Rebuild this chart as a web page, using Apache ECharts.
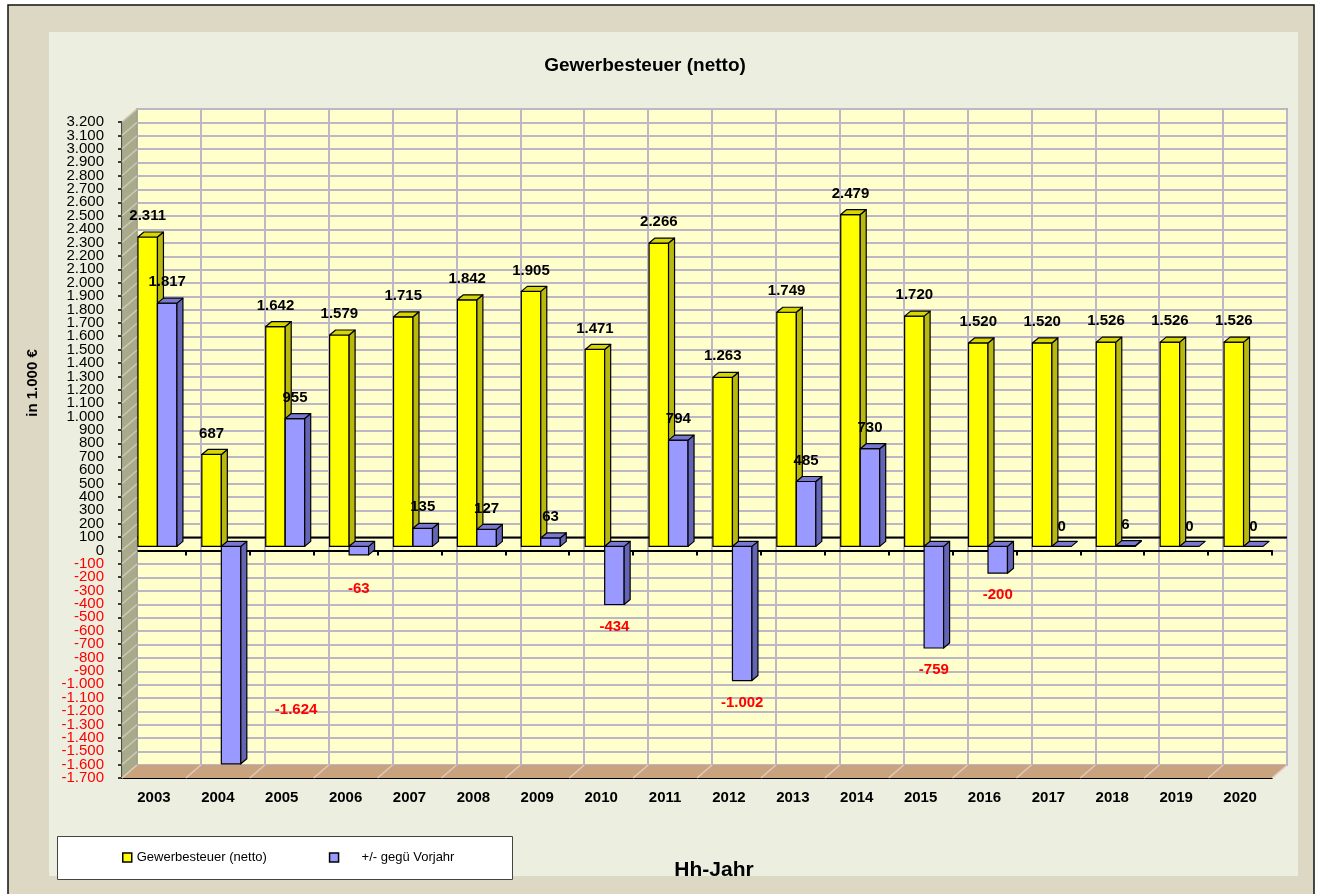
<!DOCTYPE html>
<html>
<head>
<meta charset="utf-8">
<script src="https://cdn.jsdelivr.net/npm/echarts@6/dist/echarts.min.js"></script>
<style>
html,body{margin:0;padding:0;background:#fff;}
#chart{width:1318px;height:894px;}
</style>
</head>
<body>
<div id="chart"></div>
<script>
// ---- data ----
const years = ['2003','2004','2005','2006','2007','2008','2009','2010','2011','2012','2013','2014','2015','2016','2017','2018','2019','2020'];
const gewerbesteuer = [2311, 687, 1642, 1579, 1715, 1842, 1905, 1471, 2266, 1263, 1749, 2479, 1720, 1520, 1520, 1526, 1526, 1526];
const veraenderung = [1817, -1624, 955, -63, 135, 127, 63, -434, 794, -1002, 485, 730, -759, -200, 0, 6, 0, 0];
const yMin = -1700, yMax = 3200, yStep = 100;
const seriesNames = ['Gewerbesteuer (netto)', '+/- gegü Vorjahr'];

// ---- layout / style constants ----
const FONT = '"Liberation Sans", Arial, sans-serif';
const DX = 15, DY = -13;          // depth of the 3D box
const BDX = 4, BDY = -4;          // bar plane offset
const BD_X = 6, BD_Y = -5;        // bar depth
const barColors = [
  {front:'#ffff00', side:'#b8b80e', top:'#d6d600'},
  {front:'#9999ff', side:'#6464b4', top:'#7878d0'}
];

function fmt(v){
  const s = Math.abs(v).toString().replace(/\B(?=(\d{3})+(?!\d))/g, '.');
  return (v < 0 ? '-' : '') + s;
}
// labels next to the axis ends are drawn by a helper axis so ECharts does not hide them
const nearEnds = [yMax - yStep, yMin + yStep];
const labelColor = function(v){ return Number(v) < 0 ? '#ff0000' : '#000'; };

// label overrides (Excel placed this label inside the plot)
const labelNudge = {'1_1':[65,-76]};

function wallsRender(params, api){
  const cs = params.coordSys;
  const x0 = cs.x, x1 = cs.x + cs.width, yT = cs.y, yB = cs.y + cs.height;
  const ch = [];
  ch.push({type:'polygon', shape:{points:[[x0,yT],[x0+DX,yT+DY],[x0+DX,yB+DY],[x0,yB]]}, style:{fill:'#a9a98b', stroke:'#9a9a80', lineWidth:1}});
  for (let v = yMin; v <= yMax; v += yStep){
    const y = api.coord([0, v])[1];
    ch.push({type:'line', shape:{x1:x0, y1:y, x2:x0+DX, y2:y+DY}, style:{stroke:'#cacab4', lineWidth:1.5}});
  }
  ch.push({type:'polygon', shape:{points:[[x0,yB],[x0+DX,yB+DY],[x1+DX,yB+DY],[x1,yB]]}, style:{fill:'#c9a37d'}});
  const band = api.size([1,0])[0];
  for (let i = 0; i <= years.length; i++){
    const x = api.coord([0,0])[0] - band/2 + i*band;
    ch.push({type:'line', shape:{x1:x, y1:yB, x2:x+DX, y2:yB+DY}, style:{stroke:'#e0cabb', lineWidth:1.5}});
  }
  const y0 = api.coord([0,0])[1] + DY;
  ch.push({type:'line', shape:{x1:x0+DX, y1:y0, x2:x1+DX, y2:y0}, style:{stroke:'#000', lineWidth:2}});
  return {type:'group', children:ch};
}

function barRender(sIdx){
  return function(params, api){
    const i = api.value(0), v = api.value(1);
    const c = api.coord([i, v]);
    const z = api.coord([i, 0]);
    const band = api.size([1,0])[0];
    const w = band * 0.305;
    const cx = c[0] + BDX - 0.5;
    const xL = sIdx === 0 ? cx - w : cx;
    const xR = xL + w;
    const yTop = Math.min(c[1], z[1]) + BDY;
    const yBot = Math.max(c[1], z[1]) + BDY;
    const col = barColors[sIdx];
    const st = {stroke:'#000', lineWidth:1.2, lineJoin:'round'};
    const ch = [];
    if (yBot - yTop > 0.5){
      ch.push({type:'rect', shape:{x:xL, y:yTop, width:w, height:yBot-yTop}, style:Object.assign({fill:col.front}, st)});
      ch.push({type:'polygon', shape:{points:[[xR,yTop],[xR+BD_X,yTop+BD_Y],[xR+BD_X,yBot+BD_Y],[xR,yBot]]}, style:Object.assign({fill:col.side}, st)});
    }
    ch.push({type:'polygon', shape:{points:[[xL,yTop],[xL+BD_X,yTop+BD_Y],[xR+BD_X,yTop+BD_Y],[xR,yTop]]}, style:Object.assign({fill:col.top}, st)});
    let lx = (xL + xR)/2, ly;
    if (v > 0) ly = yTop - 21;
    else if (v === 0) ly = yTop - 20;
    else ly = Math.max(yBot + 22, z[1] + 38);
    const nk = labelNudge[i + '_' + sIdx];
    if (nk){ lx += nk[0]; ly += nk[1]; }
    ch.push({type:'text', z2:10, style:{text:fmt(v), x:lx, y:ly, align:'center', verticalAlign:'middle',
      fill: v < 0 ? '#ff0000' : '#000', font:'bold 15px ' + FONT}});
    return {type:'group', children:ch};
  };
}

const chart = echarts.init(document.getElementById('chart'), null, {renderer:'canvas'});
const option = {
  animation:false,
  textStyle:{fontFamily:FONT},
  graphic:[
    {type:'rect', z:-10, silent:true, shape:{x:8, y:5, width:1306, height:900}, style:{fill:'#ddd8c3', stroke:'#111', lineWidth:1.5}},
    {type:'rect', z:-9, silent:true, shape:{x:49, y:32, width:1249, height:844}, style:{fill:'#ecefdf'}},
    {type:'rect', z:-8, silent:true, shape:{x:57.5, y:836.5, width:455, height:43}, style:{fill:'#fff', stroke:'#444', lineWidth:1}},
    {type:'text', z:5, silent:true, x:33, y:383, rotation:Math.PI/2,
      style:{text:'in 1.000 €', align:'center', verticalAlign:'middle', font:'bold 15px ' + FONT, fill:'#000'}},
    {type:'text', z:5, silent:true, x:714, y:870,
      style:{text:'Hh-Jahr', align:'center', verticalAlign:'middle', font:'bold 21px ' + FONT, fill:'#000'}}
  ],
  title:{text:'Gewerbesteuer (netto)', left:640, textAlign:'center', top:51,
    textStyle:{fontSize:19, fontWeight:'bold', color:'#000', fontFamily:FONT}},
  legend:{left:122, top:851, padding:0, itemWidth:9, itemHeight:9, itemGap:62, icon:'rect', z:10,
    itemStyle:{borderColor:'#000', borderWidth:1.5},
    textStyle:{fontSize:13, color:'#000', fontFamily:FONT},
    data:[{name:seriesNames[0]}, {name:seriesNames[1], textStyle:{padding:[0,0,0,18]}}]},
  grid:[
    {left:122, top:122, width:1150, height:656},
    {left:137, top:109, width:1150, height:656, show:true, backgroundColor:'#ffffcc', borderColor:'#aaaaaa', borderWidth:2}
  ],
  xAxis:[
    {gridIndex:0, type:'category', data:years, position:'bottom',
      axisLine:{onZero:false, lineStyle:{color:'#000', width:2}}, axisTick:{show:false},
      axisLabel:{fontSize:15, fontWeight:'bold', color:'#000', margin:12, fontFamily:FONT}, splitLine:{show:false}},
    {gridIndex:0, type:'category', data:years, position:'top',
      axisLine:{onZero:true, onZeroAxisIndex:0, lineStyle:{color:'#000', width:2}},
      axisTick:{show:true, inside:true, length:5, lineStyle:{color:'#000', width:2}},
      axisLabel:{show:false}, splitLine:{show:false}},
    {gridIndex:1, type:'category', data:years,
      axisLine:{show:false}, axisTick:{show:false}, axisLabel:{show:false},
      splitLine:{show:true, lineStyle:{color:'#bcb6c6', width:2}}}
  ],
  yAxis:[
    {gridIndex:0, type:'value', min:yMin, max:yMax, interval:yStep, position:'left',
      axisLine:{show:true, onZero:false, lineStyle:{color:'#000', width:2}},
      axisTick:{show:true, length:4, lineStyle:{color:'#000', width:1.5}},
      axisLabel:{fontSize:15, margin:18, fontFamily:FONT, showMinLabel:true, showMaxLabel:true, hideOverlap:false,
        formatter:function(v){ return nearEnds.indexOf(v) >= 0 ? '' : fmt(v); }, color:labelColor},
      splitLine:{show:false}},
    {gridIndex:1, type:'value', min:yMin, max:yMax, interval:yStep,
      axisLine:{show:false}, axisTick:{show:false}, axisLabel:{show:false},
      splitLine:{show:true, lineStyle:{color:'#bcb6c6', width:2}}},
    {gridIndex:0, type:'value', min:yMin, max:yMax, interval:yStep, position:'left', offset:0,
      axisLine:{show:false, onZero:false}, axisTick:{show:false}, splitLine:{show:false},
      axisLabel:{fontSize:15, margin:18, fontFamily:FONT, hideOverlap:false,
        formatter:function(v){ return nearEnds.indexOf(v) >= 0 ? fmt(v) : ''; }, color:labelColor}}
  ],
  series:[
    {type:'custom', name:'walls', xAxisIndex:0, yAxisIndex:0, z:1, silent:true,
      renderItem:wallsRender, data:[[0,0]]},
    {type:'custom', name:seriesNames[0], xAxisIndex:0, yAxisIndex:0, z:2,
      itemStyle:{color:'#ffff00'}, renderItem:barRender(0),
      data:gewerbesteuer.map((v,i)=>[i,v])},
    {type:'custom', name:seriesNames[1], xAxisIndex:0, yAxisIndex:0, z:3,
      itemStyle:{color:'#9999ff'}, renderItem:barRender(1),
      data:veraenderung.map((v,i)=>[i,v])}
  ]
};
chart.setOption(option);
</script>
</body>
</html>
